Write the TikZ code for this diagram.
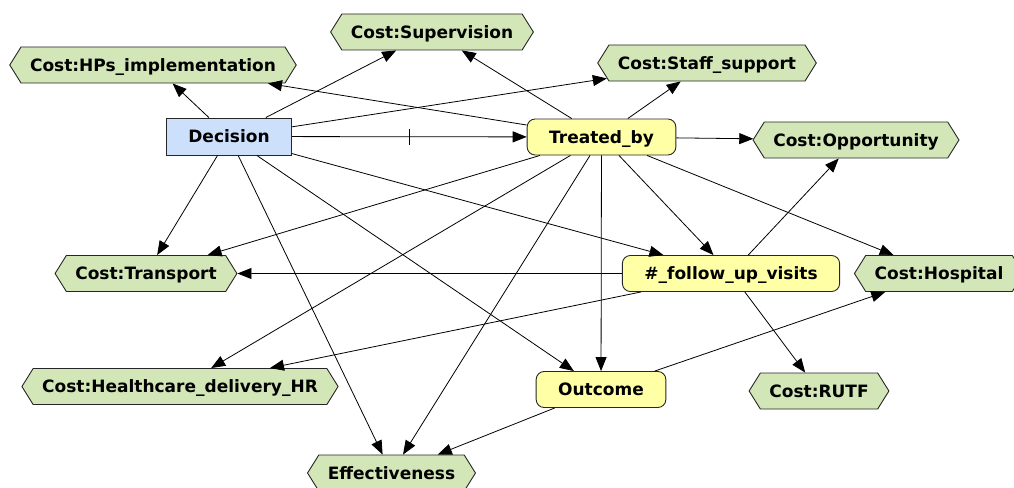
\documentclass[tikz,border=0pt]{standalone}
\usepackage{fontspec}
\setmainfont{DejaVu Sans}
\usetikzlibrary{shapes.symbols,arrows.meta}
\definecolor{bn_green}{RGB}{210, 230, 184}
\definecolor{bn_blue}{RGB}{204, 224, 252}
\definecolor{bn_yellow}{RGB}{255, 255, 166}
\tikzstyle{cn}=[signal,signal to=west and east,signal pointer angle=116,
  fill=bn_green,draw=black!85,line width=0.9pt,inner xsep=9pt,inner ysep=0pt,
  minimum height=36pt,text height=12.5pt,text depth=0pt,
  font=\fontsize{17}{20}\selectfont\bfseries]
\tikzstyle{dn}=[rectangle,fill=bn_blue,draw=black!85,line width=0.9pt,
  inner xsep=22pt,inner ysep=0pt,minimum height=37pt,text height=12.5pt,
  text depth=0pt,font=\fontsize{17}{20}\selectfont\bfseries]
\tikzstyle{yn}=[rectangle,rounded corners=8pt,fill=bn_yellow,draw=black!85,
  line width=0.9pt,inner xsep=22pt,inner ysep=0pt,minimum height=36pt,
  text height=12.5pt,text depth=0pt,font=\fontsize{17}{20}\selectfont\bfseries]
\tikzstyle{dep}=[-{Triangle[length=14pt,width=11pt]},line width=0.8pt]
\tikzstyle{none}=[]

\begin{document}
\begin{tikzpicture}[x=1pt, y=-1pt]
  \useasboundingbox (0, 0) rectangle (1014, 487);
  \node [style=dn] (0) at (229, 136.5) {Decision};
  \node [style=yn] (1) at (601.5, 137) {Treated\_by};
  \node [style=yn] (2) at (731, 273.5) {\#\_follow\_up\_visits};
  \node [style=yn] (3) at (601, 389.5) {Outcome};
  \node [style=cn] (4) at (153, 65) {Cost:HPs\_implementation};
  \node [style=cn] (5) at (432, 32) {Cost:Supervision};
  \node [style=cn] (6) at (707, 63) {Cost:Staff\_support};
  \node [style=cn] (7) at (856, 140) {Cost:Opportunity};
  \node [style=cn] (8) at (146, 273.5) {Cost:Transport};
  \node [style=cn] (9) at (939, 273.5) {Cost:Hospital};
  \node [style=cn] (10) at (180, 386.5) {Cost:Healthcare\_delivery\_HR};
  \node [style=cn] (11) at (819, 391) {Cost:RUTF};
  \node [style=cn] (12) at (391.5, 473) {Effectiveness};
  % links from the decision
  \draw [style=dep] (0) to (4);
  \draw [style=dep] (0) to (5);
  \draw [style=dep] (0) to (6);
  \draw [style=dep] (0) -- coordinate[pos=0.5] (20) (1);
  \draw [line width=0.8pt] ([yshift=-8pt]20) -- ([yshift=8pt]20);
  \draw [style=dep] (0) to (8);
  \draw [style=dep] (0) to (12);
  \draw [style=dep] (0) to (3);
  \draw [style=dep] (0) to (2);
  % links from treated_by
  \draw [style=dep] (1) to (4);
  \draw [style=dep] (1) to (5);
  \draw [style=dep] (1) to (6);
  \draw [style=dep] (1) to (7);
  \draw [style=dep] (1) to (9);
  \draw [style=dep] (1) to (2);
  \draw [style=dep] (1) to (3);
  \draw [style=dep] (1) to (8);
  \draw [style=dep] (1) to (10);
  \draw [style=dep] (1) to (12);
  % links from follow up visits and outcome
  \draw [style=dep] (2) to (8);
  \draw [style=dep] (2) to (10);
  \draw [style=dep] (2) to (7);
  \draw [style=dep] (2) to (11);
  \draw [style=dep] (3) to (12);
  \draw [style=dep] (3) to (9);
\end{tikzpicture}
\end{document}
